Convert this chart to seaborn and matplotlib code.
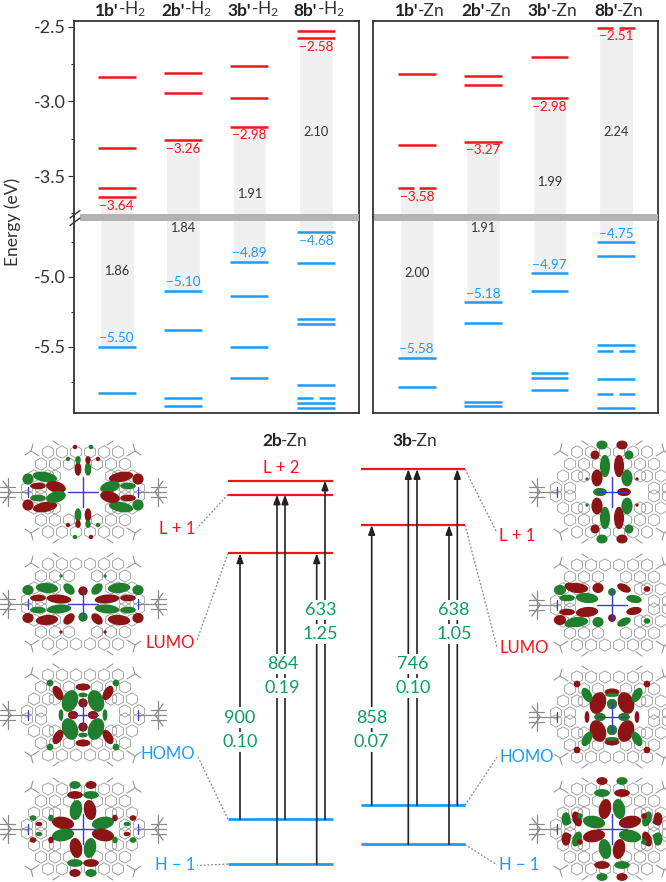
import seaborn as sns
import matplotlib.pyplot as plt
import pandas as pd
from matplotlib.patches import Ellipse, Rectangle

# -----------------------------------------
# Top panels: frontier orbital levels (eV)
# -----------------------------------------
h2_bold = ["1b'", "2b'", "3b'", "8b'"]
h2_tail = "-H$_2$"
zn_bold = ["1b'", "2b'", "3b'", "8b'"]
zn_tail = "-Zn"

h2_unocc = [[-2.84, -3.31, -3.582, -3.64], [-2.81, -2.942, -3.26], [-2.762, -2.98, -3.17], [-2.53, -2.58]]
h2_occ = [[-5.50, -5.83], [-5.10, -5.38, -5.867, -5.92], [-4.893, -5.14, -5.50, -5.72],
          [-4.683, -4.90, -5.30, -5.34, -5.77, -5.905, -5.938]]
h2_occ_split = [[], [], [], [-5.867]]
h2_unocc_split = [[], [], [], []]
h2_lumo_label = ["−3.64", "−3.26", "−2.98", "−2.58"]
h2_homo_label = ["−5.50", "−5.10", "−4.89", "−4.68"]
h2_gap = ["1.86", "1.84", "1.91", "2.10"]
h2_gap_pos = [-4.962, -4.65, -3.622, -3.208]

zn_unocc = [[-2.82, -3.29], [-2.831, -2.891, -3.27], [-2.702, -2.98], []]
zn_occ = [[-5.579, -5.788], [-5.18, -5.33, -5.893, -5.926], [-4.974, -5.10, -5.686, -5.72, -5.807],
          [-4.752, -4.855, -5.49, -5.729, -5.938]]
zn_unocc_split = [[-3.582], [], [], [-2.508]]
zn_occ_split = [[], [], [], [-5.529, -5.838]]
zn_lumo_label = ["−3.58", "−3.27", "−2.98", "−2.51"]
zn_homo_label = ["−5.58", "−5.18", "−4.97", "−4.75"]
zn_gap = ["2.00", "1.91", "1.99", "2.24"]
zn_gap_pos = [-4.976, -4.65, -3.541, -3.208]

h2_lumo = [-3.64, -3.26, -3.17, -2.58]
h2_homo = [-5.50, -5.10, -4.893, -4.683]
zn_lumo = [-3.582, -3.27, -2.98, -2.508]
zn_homo = [-5.579, -5.18, -4.974, -4.752]

# -----------------------------------------
# Lower diagram: levels and transitions
# -----------------------------------------
levels_2b = {"L+2": -2.78, "L+1": -2.88, "LUMO": -3.30, "HOMO": -5.20, "H-1": -5.52}
levels_3b = {"L+2": -2.698, "LUMO": -3.098, "HOMO": -5.10, "H-1": -5.38}

trans_2b_x = [240, 277, 285, 316.7, 325]
trans_2b_from = ["HOMO", "H-1", "HOMO", "H-1", "HOMO"]
trans_2b_to = ["LUMO", "L+1", "L+1", "LUMO", "L+2"]
trans_3b_x = [371.7, 408.3, 417, 449, 457.3]
trans_3b_from = ["HOMO", "H-1", "HOMO", "H-1", "HOMO"]
trans_3b_to = ["LUMO", "L+2", "L+2", "LUMO", "L+2"]

wave_nm = ["900", "864", "633", "858", "746", "638"]
osc_str = ["0.10", "0.19", "1.25", "0.07", "0.10", "1.05"]
wave_x = [240, 282.5, 320.7, 371.7, 412.7, 454]
wave_e = [-4.474, -4.09, -3.705, -4.474, -4.09, -3.705]
osc_e = [-4.646, -4.26, -3.876, -4.646, -4.26, -3.876]

RED = "#f5141c"
BLUE = "#1c9cf6"
GREEN = "#0a9e62"
DARK = "#333333"

sns.set_style("ticks")
plt.rcParams["font.family"] = ["Lato", "DejaVu Sans"]
plt.rcParams["mathtext.fontset"] = "custom"
plt.rcParams["mathtext.rm"] = "Lato"
plt.rcParams["mathtext.bf"] = "Lato:bold"
plt.rcParams["mathtext.it"] = "Lato:italic"

W, H = 666, 882
fig = plt.figure(figsize=(W / 100, H / 100), dpi=100)


def px_axes(x0, y0, x1, y1, **kw):
    return fig.add_axes([x0 / W, 1 - y1 / H, (x1 - x0) / W, (y1 - y0) / H], **kw)


def draw_levels(ax, pos, values, split, color):
    for v in values:
        ax.hlines(v, pos - 0.286, pos + 0.286, color=color, lw=1.8)
    for v in split:
        ax.hlines(v, pos - 0.286, pos - 0.04, color=color, lw=1.8)
        ax.hlines(v, pos + 0.04, pos + 0.286, color=color, lw=1.8)


def top_panel(x0, x1, xlim, bold, tail, unocc, occ, un_split, oc_split, lumo, homo,
              lumo_lab, homo_lab, gaps, gap_pos, show_y):
    up = px_axes(x0, 21, x1, 217)
    lo = px_axes(x0, 217, x1, 412.7)
    up.set_ylim(-3.774, -2.463)
    lo.set_ylim(-5.971, -4.574)

    df = pd.DataFrame({"name": [b + str(i) for i, b in enumerate(bold)], "homo": homo})
    sns.barplot(data=df, x="name", y="homo", color="#f0f0f0", saturation=1, width=0.51, ax=lo)
    up.bar(range(4), [-3.774 - v for v in lumo], bottom=lumo, width=0.51, color="#f0f0f0")

    for i in range(4):
        draw_levels(up, i, unocc[i], un_split[i], RED)
        draw_levels(lo, i, occ[i], oc_split[i], BLUE)
        up.annotate(lumo_lab[i], (i, lumo[i]), xytext=(0, -6.2), textcoords="offset points",
                    ha="center", va="center", color=RED, fontsize=9.7)
        off = 6
        if homo_lab[i] == "−4.68":
            off = -6.2
        lo.annotate(homo_lab[i], (i, homo[i]), xytext=(0, off), textcoords="offset points",
                    ha="center", va="center", color=BLUE, fontsize=9.7)
        target = lo if gap_pos[i] < -4 else up
        target.text(i, gap_pos[i], gaps[i], ha="center", va="center", color=DARK, fontsize=9.2)
        # compound header: bold part then plain part, meeting near the column centre
        up.annotate(bold[i], (i, 1), xycoords=("data", "axes fraction"), xytext=(1, 1.5),
                    textcoords="offset points", ha="right", va="bottom", fontsize=12.5,
                    fontweight="bold", color="#222222", annotation_clip=False)
        up.annotate(tail, (i, 1), xycoords=("data", "axes fraction"), xytext=(1, 1.5),
                    textcoords="offset points", ha="left", va="bottom", fontsize=12.5, color=DARK,
                    annotation_clip=False)

    for ax in (up, lo):
        ax.set_xlim(*xlim)
        ax.set_xlabel("")
        ax.set_ylabel("")
        ax.set_xticks([])
        for s in ax.spines.values():
            s.set_color(DARK)
            s.set_linewidth(1.3)
    up.spines["bottom"].set_visible(False)
    lo.spines["top"].set_visible(False)

    up.set_yticks([-2.5, -3.0, -3.5])
    up.set_yticks([-2.75, -3.25, -3.75], minor=True)
    lo.set_yticks([-5.0, -5.5])
    lo.set_yticks([-4.75, -5.25, -5.75], minor=True)
    for ax in (up, lo):
        if show_y:
            ax.set_yticklabels(["%.1f" % t for t in ax.get_yticks()])
            ax.tick_params(axis="y", which="major", length=4, width=0.8, labelsize=13, pad=2,
                           labelcolor=DARK, color=DARK)
            ax.tick_params(axis="y", which="minor", length=2, width=0.8, color=DARK)
        else:
            ax.tick_params(axis="y", which="both", length=0, labelleft=False)


top_panel(74, 359, (-0.643, 3.65), h2_bold, h2_tail, h2_unocc, h2_occ, h2_unocc_split, h2_occ_split,
          h2_lumo, h2_homo, h2_lumo_label, h2_homo_label, h2_gap, h2_gap_pos, True)
top_panel(373.3, 657.7, (-0.654, 3.63), zn_bold, zn_tail, zn_unocc, zn_occ, zn_unocc_split, zn_occ_split,
          zn_lumo, zn_homo, zn_lumo_label, zn_homo_label, zn_gap, zn_gap_pos, False)

# pixel canvas for the axis break and the orbital sketches
canvas = px_axes(0, 0, W, H, zorder=5)
canvas.set_xlim(0, W)
canvas.set_ylim(H, 0)
canvas.axis("off")
canvas.patch.set_alpha(0)

canvas.add_patch(Rectangle((80, 213.8), 279, 7, color="#b3b3b3", lw=0))
canvas.add_patch(Rectangle((374, 213.8), 284, 7, color="#b3b3b3", lw=0))
canvas.plot([70, 80], [218, 210.5], color=DARK, lw=1)
canvas.plot([70, 80], [225.5, 218], color=DARK, lw=1)
canvas.text(13, 222, "Energy (eV)", rotation=90, ha="center", va="center", fontsize=12.5, color=DARK)

# -----------------------------------------
# Orbital sketches
# -----------------------------------------
ORB_RED = "#8c1414"
ORB_GREEN = "#1f7f2c"
LOBE_SCALE = 1.12

hex_ul = [(-7, -40), (-21, -40), (-14, -28), (-28, -28), (-42, -28), (-35, -16), (-49, -16),
          (-28, -16), (-42, -4), (-56, -4), (-35, -40)]
branch_ul = [(-44, -36, -52, -41), (-52, -41, -58, -37), (-52, -41, -50, -48), (-24, -47, -30, -51)]
arm_l = [(-83, 0, -55, 0), (-80, -11, -72, 0), (-80, 11, -72, 0), (-83, -5, -68, -5), (-83, 5, -68, 5),
         (-75, -14, -75, 14)]

# lobes: dx, dy, width, height, angle, is_red
lobes_l1 = [(-38, -15, 22, 9, 10, 0), (-27, -5, 18, 10, 15, 1), (-55, -13, 10, 10, 0, 0), (-45, -6, 14, 6, 0, 1),
            (-5, -23, 6, 12, 0, 1), (-5, -32, 5, 7, 0, 0), (-15, -33, 4, 4, 0, 0), (-8, -45, 4, 4, 0, 1)]
lobes_l2 = [(-36, -16, 20, 9, 5, 0), (-24, -5, 22, 8, 5, 1), (-55, -14, 10, 9, 0, 0), (-45, -6, 14, 6, 0, 1),
            (-14, -15, 12, 8, 45, 0), (0, -13, 8, 8, 0, 1), (-22, -28, 3, 3, 0, 0)]
lobes_l3 = [(-13, -14, 14, 20, 20, 0), (-10, 0, 9, 7, 0, 1), (0, -12, 8, 8, 0, 1), (0, -28, 13, 6, 0, 1), (0, -20, 8, 4, 0, 0),
            (-25, -22, 8, 14, -30, 1), (-33, -32, 6, 6, 0, 0), (-22, 0, 4, 10, 0, 0)]
lobes_l4 = [(-7, -19, 11, 18, 10, 0), (-20, -6, 20, 11, 10, 1), (-8, -34, 14, 7, 0, 1), (-8, -44, 10, 7, 0, 0),
            (-32, -11, 5, 6, 0, 0), (-50, -11, 6, 5, 0, 0), (-44, -5, 6, 4, 0, 1)]
lobes_r1 = [(-7, -26, 9, 20, 0, 0), (-15, -14, 10, 15, 0, 1), (-12, 0, 12, 7, 0, 0), (-10, -47, 10, 8, 0, 0),
            (-17, -37, 8, 8, 0, 1), (-25, -13, 3, 3, 0, 0)]
lobes_r2 = [(-35, -17, 20, 9, 5, 1), (-25, -7, 20, 9, 5, 0), (-52, -15, 11, 9, 0, 0), (-45, -7, 14, 6, 0, 0), (-14, -17, 10, 9, 0, 1),
            (12, -17, 13, 7, 25, 1), (22, -6, 14, 7, 10, 0), (0, -13, 7, 7, 0, 0), (35, -16, 6, 5, 0, 1), (-43, -19, 8, 6, 0, 1)]
lobes_r3 = [(-14, -14, 14, 20, 20, 1), (-12, 0, 10, 7, 0, 0), (0, -13, 9, 9, 0, 0), (0, -25, 13, 6, 0, 1), (0, -22, 12, 3, 0, 0),
            (-25, -22, 8, 14, -30, 0), (-35, -33, 6, 6, 0, 1), (-25, 0, 4, 10, 0, 1)]
lobes_r4 = [(-7, -20, 11, 18, 10, 1), (-18, -7, 20, 11, 10, 0), (-10, -36, 14, 7, 0, 0), (-10, -48, 10, 7, 0, 1),
            (35, -10, 8, 14, 20, 0), (46, -10, 8, 12, 0, 1), (-45, -7, 8, 5, 0, 0), (-32, -13, 5, 5, 0, 0)]

# centre x, centre y, lobes, mirror left-right colour rule, mirror up-down colour rule (+1 same, -1 swap, 0 none)
molecules = [
    (83, 492, lobes_l1, -1, -1), (83, 604, lobes_l2, 1, -1), (83, 715, lobes_l3, 1, 1), (83, 829, lobes_l4, -1, -1),
    (612, 492, lobes_r1, -1, 1), (612, 605, lobes_r2, 0, -1), (612, 717, lobes_r3, 1, 1), (612, 829, lobes_r4, -1, -1),
]


def add_lobe(cx, cy, dx, dy, w, h, ang, red):
    canvas.add_patch(Ellipse((cx + dx, cy + dy), w * LOBE_SCALE, h * LOBE_SCALE, angle=ang,
                             facecolor=ORB_RED if red else ORB_GREEN, edgecolor="none", zorder=4))


for cx, cy, lobes, mx, my in molecules:
    hx = []
    hy = []
    for dx, dy in hex_ul:
        for sx, sy in [(1, 1), (-1, 1), (1, -1), (-1, -1)]:
            hx.append(cx + sx * dx)
            hy.append(cy + sy * dy)
    canvas.scatter(hx, hy, marker="h", s=80, facecolors="none", edgecolors="#999999", linewidths=0.6, zorder=2)
    for x0, y0, x1, y1 in branch_ul:
        for sx, sy in [(1, 1), (-1, 1), (1, -1), (-1, -1)]:
            canvas.plot([cx + sx * x0, cx + sx * x1], [cy + sy * y0, cy + sy * y1], color="#999999", lw=0.8, zorder=2)
    for x0, y0, x1, y1 in arm_l:
        for sx in (1, -1):
            canvas.plot([cx + sx * x0, cx + sx * x1], [cy + y0, cy + y1], color="#8a8a8a", lw=0.9, zorder=2)
    for sx in (1, -1):
        canvas.plot([cx + sx * 55, cx + sx * 55], [cy - 5, cy + 5], color="#3a3ad0", lw=0.9, zorder=3)
    for dx, dy, w, h, ang, red in lobes:
        add_lobe(cx, cy, dx, dy, w, h, ang, red)
        if mx:
            add_lobe(cx, cy, -dx, dy, w, h, -ang, red if mx > 0 else 1 - red)
        if my:
            add_lobe(cx, cy, dx, -dy, w, h, -ang, red if my > 0 else 1 - red)
        if mx and my:
            add_lobe(cx, cy, -dx, -dy, w, h, ang, red if mx * my > 0 else 1 - red)
    canvas.plot([cx - 15, cx + 15], [cy, cy], color="#3a3ad0", lw=1, zorder=5)
    canvas.plot([cx, cx], [cy - 15, cy + 15], color="#3a3ad0", lw=1, zorder=5)

canvas.set_xlim(0, W)
canvas.set_ylim(H, 0)

# -----------------------------------------
# Lower transition diagram
# -----------------------------------------
diag = px_axes(0, 430, W, 882, zorder=6)
diag.set_xlim(0, W)
diag.set_ylim(-5.648, -2.419)
diag.axis("off")
diag.patch.set_alpha(0)


def level_color(name):
    return RED if name in ("L+2", "L+1", "LUMO") else BLUE


for levels, x0, x1 in [(levels_2b, 228, 333), (levels_3b, 361, 465)]:
    for name, val in levels.items():
        diag.hlines(val, x0, x1, color=level_color(name), lw=2 if val < -5 else 1.6, zorder=2)

for levels, xs, froms, tos in [(levels_2b, trans_2b_x, trans_2b_from, trans_2b_to),
                               (levels_3b, trans_3b_x, trans_3b_from, trans_3b_to)]:
    for x, a, b in zip(xs, froms, tos):
        diag.annotate("", xy=(x, levels[b]), xytext=(x, levels[a]),
                      arrowprops=dict(arrowstyle="-|>,head_length=0.55,head_width=0.2", color="#222222", lw=1.2,
                                      shrinkA=0, shrinkB=0), zorder=3)

for x, w, s, ew, es in zip(wave_x, wave_nm, osc_str, wave_e, osc_e):
    bbox = dict(facecolor="white", edgecolor="none", pad=1.5)
    diag.text(x, ew, w, ha="center", va="center", color=GREEN, fontsize=13, bbox=bbox, zorder=4)
    diag.text(x, es, s, ha="center", va="center", color=GREEN, fontsize=13, bbox=bbox, zorder=4)

diag.annotate("2b", (281.7, -2.498), xytext=(-7, 0), textcoords="offset points", ha="center", va="center",
              fontsize=12.5, fontweight="bold", color="#222222")
diag.annotate("-Zn", (281.7, -2.498), xytext=(-0.5, 0), textcoords="offset points", ha="left", va="center",
              fontsize=12.5, color=DARK)
diag.annotate("3b", (412, -2.498), xytext=(-7, 0), textcoords="offset points", ha="center", va="center",
              fontsize=12.5, fontweight="bold", color="#222222")
diag.annotate("-Zn", (412, -2.498), xytext=(-0.5, 0), textcoords="offset points", ha="left", va="center",
              fontsize=12.5, color=DARK)
diag.text(281, -2.689, "L + 2", ha="center", va="center", fontsize=12, color=RED)

left_labels = ["L + 1", "LUMO", "HOMO", "H − 1"]
left_label_e = [-3.124, -3.941, -4.734, -5.526]
left_level_e = [-2.88, -3.30, -5.20, -5.52]
left_end_e = [-3.12, -3.92, -4.74, -5.53]
right_labels = ["L + 1", "LUMO", "HOMO", "H − 1"]
right_label_e = [-3.176, -3.977, -4.753, -5.526]
right_level_e = [-2.698, -3.098, -5.10, -5.38]
right_end_e = [-3.155, -3.97, -4.755, -5.526]

for lab, le, lv, end in zip(left_labels, left_label_e, left_level_e, left_end_e):
    col = RED if lab in ("L + 1", "LUMO") else BLUE
    diag.text(195, le, lab, ha="right", va="center", fontsize=12, color=col)
    diag.plot([228, 197], [lv, end], color="#888888", lw=0.9, ls=(0, (1.5, 1.5)))

for lab, le, lv, end in zip(right_labels, right_label_e, right_level_e, right_end_e):
    col = RED if lab in ("L + 1", "LUMO") else BLUE
    diag.text(499.3, le, lab, ha="left", va="center", fontsize=12, color=col)
    diag.plot([465, 497], [lv, end], color="#888888", lw=0.9, ls=(0, (1.5, 1.5)))

diag.set_xlim(0, W)
diag.set_ylim(-5.648, -2.419)

fig.savefig("out.png", dpi=100)
